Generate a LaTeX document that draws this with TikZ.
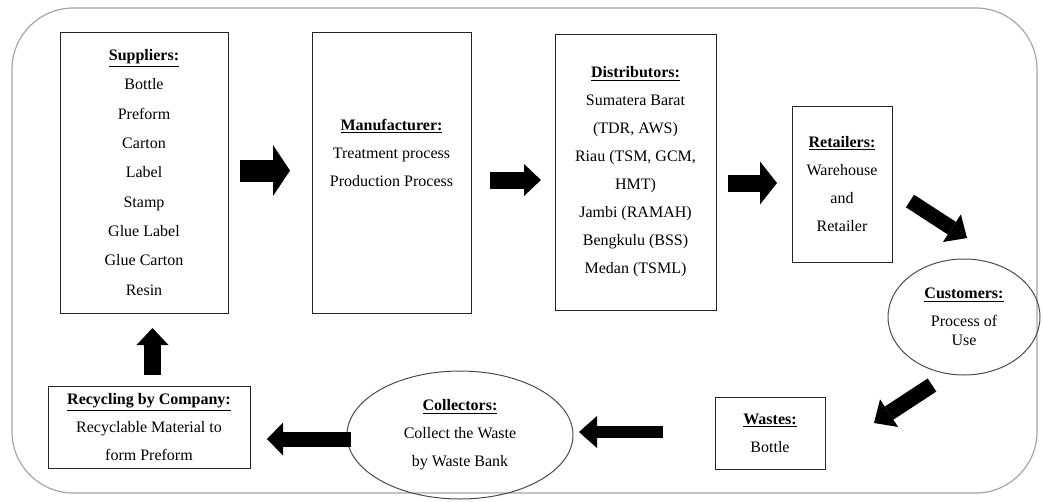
\documentclass[tikz,border=0pt]{standalone}
\usepackage{fontspec}
\setmainfont{Liberation Serif}
\usetikzlibrary{shapes.geometric,arrows.meta}
\newcommand\boxtitle[1]{\underline{\textbf{#1}}}
\begin{document}
\begin{tikzpicture}[x=0.75pt,y=-0.75pt,
  box/.style={draw=black!85,line width=0.75pt,inner sep=0pt,outer sep=0pt,align=center,
    font=\fontsize{12pt}{21pt}\selectfont},
  oval/.style={ellipse,draw=black!70,line width=0.75pt,inner sep=0pt,outer sep=0pt,align=center,
    font=\fontsize{12pt}{21pt}\selectfont},
  txt/.style={inner sep=0pt,align=center,font=\fontsize{12pt}{21pt}\selectfont},
  flow/.style n args={3}{draw=black,fill=black,line width=#1pt,
    -{Triangle[length=#2pt,width=#3pt,line width=0pt]}}]
\useasboundingbox (0,0) rectangle (1043,501);
% outer frame
\draw[black!35,line width=0.9pt,rounded corners=46pt] (12,8) rectangle (1037,493);
% boxes
\node[box,minimum width=126pt,minimum height=210.75pt,font=\fontsize{12pt}{22pt}\selectfont] (sup) at (144,172.5)
  {\boxtitle{Suppliers:}\\Bottle\\Preform\\Carton\\Label\\Stamp\\Glue Label\\Glue Carton\\Resin};
\node[box,minimum width=119.25pt,minimum height=210.75pt] (man) at (391.5,172.5) {};
\node[txt] (mantxt) at (391.5,153) {\boxtitle{Manufacturer:}\\Treatment process\\Production Process};
\node[box,minimum width=120.75pt,minimum height=207pt] (dist) at (635.5,172)
  {\boxtitle{Distributors:}\\Sumatera Barat\\(TDR, AWS)\\Riau (TSM, GCM,\\HMT)\\Jambi (RAMAH)\\Bengkulu (BSS)\\Medan (TSML)};
\node[box,minimum width=75pt,minimum height=117pt] (ret) at (842,184)
  {\boxtitle{Retailers:}\\Warehouse\\and\\Retailer};
\node[oval,minimum width=114pt,minimum height=87pt] (cust) at (964,317)
  {\boxtitle{Customers:}\\Process of\\[-7pt]Use};
\node[box,minimum width=82.5pt,minimum height=54pt] (waste) at (770,433)
  {\boxtitle{Wastes:}\\Bottle};
\node[oval,minimum width=169.5pt,minimum height=96pt] (coll) at (460,435)
  {\boxtitle{Collectors:}\\Collect the Waste\\by Waste Bank};
\node[box,minimum width=151.5pt,minimum height=61.5pt] (rec) at (149,427)
  {\boxtitle{Recycling by Company:}\\Recyclable Material to\\form Preform};
% arrow end points
\coordinate (a1s) at (240,170.5); \coordinate (a1e) at (290,170.5);
\coordinate (a2s) at (490,180);   \coordinate (a2e) at (541,180);
\coordinate (a3s) at (728,183);   \coordinate (a3e) at (777,183);
\coordinate (a4s) at (910,201);   \coordinate (a4e) at (967,238);
\coordinate (a5s) at (932,385);   \coordinate (a5e) at (874,423);
\coordinate (a6s) at (663,432);   \coordinate (a6e) at (579,432);
\coordinate (a7s) at (351,439);   \coordinate (a7e) at (267,439);
\coordinate (a8s) at (152.5,375); \coordinate (a8e) at (152.5,328);
% arrows
\draw[flow={16.5}{12.75}{38.25}] (a1s) -- (a1e);
\draw[flow={12.75}{12.75}{24}] (a2s) -- (a2e);
\draw[flow={12.75}{12.75}{32.25}] (a3s) -- (a3e);
\draw[flow={11.25}{13.5}{24.75}] (a4s) -- (a4e);
\draw[flow={11.75}{13.5}{24.75}] (a5s) -- (a5e);
\draw[flow={9.5}{13.5}{24}] (a6s) -- (a6e);
\draw[flow={11.25}{12}{24.75}] (a7s) -- (a7e);
\draw[flow={12.75}{12.75}{24}] (a8s) -- (a8e);
\end{tikzpicture}
\end{document}
